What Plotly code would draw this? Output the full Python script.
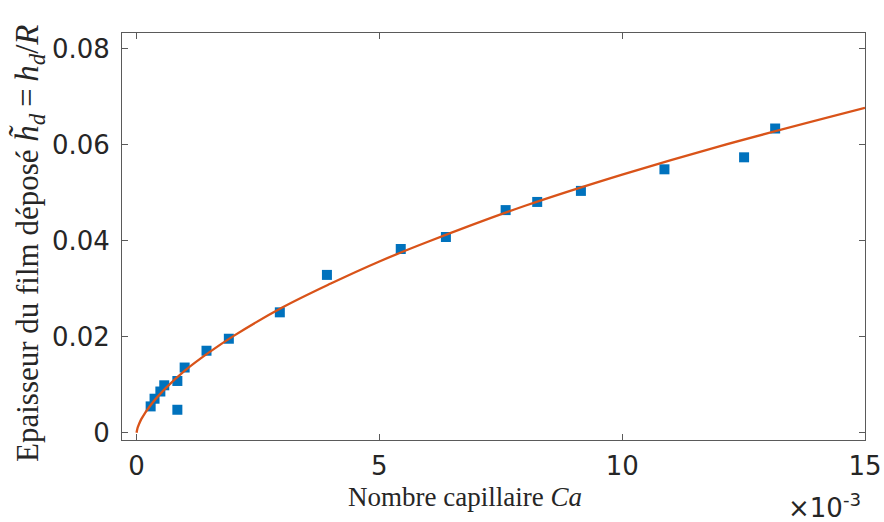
import plotly.graph_objects as go

# Measured points (Ca, h_d/R)
ca_pts = [0.29e-3, 0.37e-3, 0.49e-3, 0.57e-3, 0.84e-3, 0.84e-3, 0.99e-3, 1.44e-3, 1.90e-3,
          2.95e-3, 3.92e-3, 5.44e-3, 6.37e-3, 7.60e-3, 8.25e-3, 9.15e-3, 10.87e-3, 12.51e-3, 13.15e-3]
h_pts = [0.0055, 0.0071, 0.0086, 0.0099, 0.0108, 0.0048, 0.0136, 0.0171, 0.0196,
         0.0251, 0.0329, 0.0383, 0.0408, 0.0464, 0.0481, 0.0504, 0.0549, 0.0574, 0.0634]

# Fitted curve, values
ca_fit = [0, 0.02e-3, 0.05e-3, 0.1e-3, 0.3e-3, 0.6e-3, 1.0e-3, 1.5e-3, 2.0e-3, 3.0e-3,
          4.0e-3, 5.0e-3, 6.0e-3, 8.0e-3, 10.0e-3, 12.0e-3, 15.0e-3]
h_fit = [0, 0.0010, 0.0018, 0.0029, 0.0059, 0.0093, 0.0130, 0.0168, 0.0202, 0.0261,
         0.0311, 0.0357, 0.0398, 0.0473, 0.0538, 0.0597, 0.0677]

x_tickvals = [0, 0.005, 0.010, 0.015]
x_ticktext = ["0", "5", "10", "15"]
y_tickvals = [0, 0.02, 0.04, 0.06, 0.08]
y_ticktext = ["0", "0.02", "0.04", "0.06", "0.08"]

fig = go.Figure()
fig.add_trace(go.Scatter(x=ca_pts, y=h_pts, mode="markers",
                         marker=dict(symbol="square", size=10, color="#0072BD",
                                     line=dict(width=0)),
                         showlegend=False))
fig.add_trace(go.Scatter(x=ca_fit, y=h_fit, mode="lines", line_shape="spline",
                         line=dict(color="#D95319", width=2.3), showlegend=False))

axis_common = dict(showline=True, linecolor="#5a5a5a", linewidth=1, mirror="ticks",
                   ticks="inside", ticklen=6, tickcolor="#5a5a5a", tickwidth=1,
                   showgrid=False, zeroline=False, automargin=False,
                   tickfont=dict(family="DejaVu Sans", size=26, color="#262626"))

fig.update_xaxes(range=[-0.0003, 0.015], tickvals=x_tickvals, ticktext=x_ticktext,
                 ticklabelstandoff=3, **axis_common)
fig.update_yaxes(range=[-0.0015, 0.0833], tickvals=y_tickvals, ticktext=y_ticktext,
                 ticklabelstandoff=6, **axis_common)

ytitle = ("Epaisseur du film déposé "
          "<span style='font-size:33px'><i>h\u0303</i><sub><i>d</i></sub>"
          "\u2009=\u2009<i>h</i><sub><i>d</i></sub>/<i>R</i></span>")

fig.update_layout(
    width=884, height=522,
    margin=dict(l=122, r=19, t=33, b=82),
    plot_bgcolor="white", paper_bgcolor="white",
    annotations=[
        dict(text="Nombre capillaire <i>Ca</i>", xref="paper", yref="paper",
             x=0.4617, y=-0.14, xanchor="center", yanchor="middle", showarrow=False,
             font=dict(family="Liberation Serif", size=27, color="#262626")),
        dict(text=ytitle,
             xref="paper", yref="paper", x=-0.126, y=0.485, xanchor="center", yanchor="middle",
             textangle=-90, showarrow=False,
             font=dict(family="Liberation Serif", size=31, color="#262626")),
        dict(text="×10<sup>-3</sup>", xref="paper", yref="paper",
             x=0.997, y=-0.162, xanchor="right", yanchor="middle", showarrow=False,
             font=dict(family="DejaVu Sans", size=26, color="#262626")),
    ],
)

fig.write_html("out.html")
